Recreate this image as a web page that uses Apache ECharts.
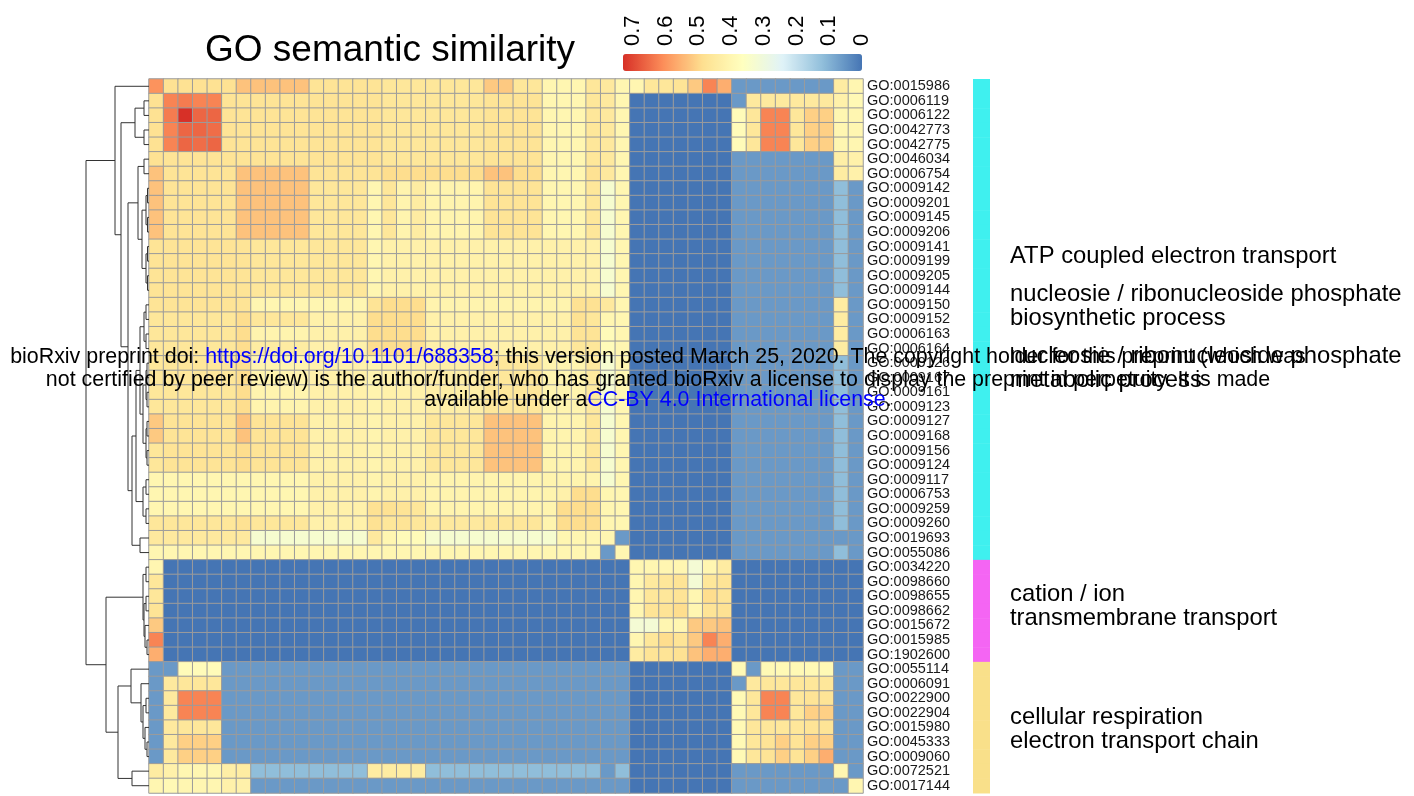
<!DOCTYPE html>
<html><head><meta charset="utf-8">
<script src="https://cdn.jsdelivr.net/npm/echarts/dist/echarts.min.js"></script>
<style>html,body{margin:0;padding:0;background:#fff;}#c{width:1414px;height:796px;}</style>
</head><body><div id="c"></div>
<script>
const goTerms = ["GO:0015986","GO:0006119","GO:0006122","GO:0042773","GO:0042775","GO:0046034","GO:0006754","GO:0009142","GO:0009201","GO:0009145","GO:0009206","GO:0009141","GO:0009199","GO:0009205","GO:0009144","GO:0009150","GO:0009152","GO:0006163","GO:0006164","GO:0009126","GO:0009167","GO:0009161","GO:0009123","GO:0009127","GO:0009168","GO:0009156","GO:0009124","GO:0009117","GO:0006753","GO:0009259","GO:0009260","GO:0019693","GO:0055086","GO:0034220","GO:0098660","GO:0098655","GO:0098662","GO:0015672","GO:0015985","GO:1902600","GO:0055114","GO:0006091","GO:0022900","GO:0022904","GO:0015980","GO:0045333","GO:0009060","GO:0072521","GO:0017144"];

// similarity matrix (symmetric) - upper triangle, row i lists columns i..49
const simNucleotide = [
[.60,.48,.48,.48,.48,.48,.53,.53,.53,.53,.53,.47,.47,.47,.47,.47,.46,.46,.46,.46,.46,.46,.46,.52,.52,.46,.46,.40,.40,.40,.46,.45,.40,.40,.46,.46,.47,.52,.62,.56,.06,.06,.06,.06,.06,.06,.06,.44,.40],
[.62,.63,.62,.62,.47,.47,.47,.47,.47,.47,.47,.47,.47,.47,.47,.46,.46,.46,.46,.46,.46,.46,.47,.47,.47,.47,.40,.40,.40,.46,.45,.40,0,0,0,0,0,0,0,.06,.45,.45,.45,.45,.45,.45,.42,.39],
[.73,.66,.66,.47,.47,.47,.47,.47,.47,.47,.47,.47,.47,.47,.46,.46,.46,.46,.46,.46,.46,.47,.47,.47,.47,.40,.40,.40,.46,.45,.40,0,0,0,0,0,0,0,.38,.46,.62,.62,.46,.51,.51,.40,.40],
[.66,.65,.47,.47,.47,.47,.47,.47,.47,.47,.47,.47,.47,.46,.46,.46,.46,.46,.46,.46,.47,.47,.47,.47,.40,.40,.40,.46,.45,.40,0,0,0,0,0,0,0,.38,.46,.62,.62,.46,.51,.51,.40,.40],
[.66,.47,.47,.47,.47,.47,.47,.47,.47,.47,.47,.47,.46,.46,.46,.46,.46,.46,.46,.47,.47,.47,.47,.40,.40,.40,.46,.45,.40,0,0,0,0,0,0,0,.38,.46,.62,.62,.46,.51,.51,.40,.40],
[.47,.47,.47,.47,.47,.47,.47,.47,.47,.47,.47,.46,.46,.46,.46,.46,.46,.46,.47,.47,.47,.47,.40,.40,.40,.46,.45,.40,0,0,0,0,0,0,0,.06,.06,.06,.06,.06,.06,.06,.43,.42],
[.53,.53,.53,.53,.53,.47,.47,.47,.47,.47,.49,.49,.49,.49,.49,.49,.49,.53,.53,.49,.49,.40,.40,.40,.48,.45,.40,0,0,0,0,0,0,0,.06,.06,.06,.06,.06,.06,.06,.44,.42],
[.53,.53,.53,.53,.46,.46,.46,.46,.40,.46,.41,.44,.41,.41,.41,.41,.47,.47,.47,.47,.40,.40,.40,.46,.33,.40,0,0,0,0,0,0,0,.06,.06,.06,.06,.06,.06,.06,.12,.06],
[.53,.53,.53,.46,.46,.46,.46,.40,.46,.41,.44,.41,.41,.41,.41,.47,.47,.47,.47,.40,.40,.40,.46,.33,.40,0,0,0,0,0,0,0,.06,.06,.06,.06,.06,.06,.06,.12,.06],
[.53,.53,.46,.46,.46,.46,.40,.46,.41,.44,.41,.41,.41,.41,.47,.47,.47,.47,.40,.40,.40,.46,.33,.40,0,0,0,0,0,0,0,.06,.06,.06,.06,.06,.06,.06,.12,.06],
[.53,.46,.46,.46,.46,.40,.46,.41,.44,.41,.41,.41,.41,.47,.47,.47,.47,.40,.40,.40,.46,.33,.40,0,0,0,0,0,0,0,.06,.06,.06,.06,.06,.06,.06,.12,.06],
[.46,.46,.46,.46,.40,.42,.42,.42,.42,.42,.42,.42,.42,.42,.42,.42,.42,.42,.42,.42,.33,.40,0,0,0,0,0,0,0,.06,.06,.06,.06,.06,.06,.06,.12,.06],
[.46,.46,.46,.40,.42,.42,.42,.42,.42,.42,.42,.42,.42,.42,.42,.42,.42,.42,.42,.33,.40,0,0,0,0,0,0,0,.06,.06,.06,.06,.06,.06,.06,.12,.06],
[.46,.46,.40,.42,.42,.42,.42,.42,.42,.42,.42,.42,.42,.42,.42,.42,.42,.42,.33,.40,0,0,0,0,0,0,0,.06,.06,.06,.06,.06,.06,.06,.12,.06],
[.46,.40,.42,.42,.42,.42,.42,.42,.42,.42,.42,.42,.42,.42,.42,.42,.42,.33,.40,0,0,0,0,0,0,0,.06,.06,.06,.06,.06,.06,.06,.12,.06],
[.47,.49,.49,.49,.41,.41,.41,.41,.41,.41,.41,.41,.41,.41,.48,.48,.45,.40,0,0,0,0,0,0,0,.06,.06,.06,.06,.06,.06,.06,.44,.06],
[.49,.49,.49,.42,.42,.42,.42,.42,.42,.42,.42,.42,.42,.48,.46,.40,.40,0,0,0,0,0,0,0,.06,.06,.06,.06,.06,.06,.06,.44,.06],
[.49,.49,.42,.42,.42,.42,.42,.42,.42,.42,.42,.42,.47,.47,.38,.40,0,0,0,0,0,0,0,.06,.06,.06,.06,.06,.06,.06,.44,.06],
[.48,.42,.42,.42,.42,.42,.42,.42,.42,.42,.42,.46,.46,.38,.40,0,0,0,0,0,0,0,.06,.06,.06,.06,.06,.06,.06,.44,.06],
[.43,.43,.43,.43,.46,.46,.46,.46,.41,.41,.41,.45,.33,.40,0,0,0,0,0,0,0,.06,.06,.06,.06,.06,.06,.06,.12,.06],
[.43,.43,.43,.46,.46,.46,.46,.41,.41,.41,.45,.33,.40,0,0,0,0,0,0,0,.06,.06,.06,.06,.06,.06,.06,.12,.06],
[.43,.43,.46,.46,.46,.46,.41,.41,.41,.45,.33,.40,0,0,0,0,0,0,0,.06,.06,.06,.06,.06,.06,.06,.12,.06],
[.43,.46,.46,.46,.46,.41,.41,.41,.45,.33,.40,0,0,0,0,0,0,0,.06,.06,.06,.06,.06,.06,.06,.12,.06],
[.53,.53,.53,.53,.41,.41,.41,.46,.33,.40,0,0,0,0,0,0,0,.06,.06,.06,.06,.06,.06,.06,.12,.06],
[.53,.53,.53,.41,.41,.41,.46,.33,.40,0,0,0,0,0,0,0,.06,.06,.06,.06,.06,.06,.06,.12,.06],
[.53,.53,.41,.41,.41,.46,.33,.40,0,0,0,0,0,0,0,.06,.06,.06,.06,.06,.06,.06,.12,.06],
[.53,.41,.41,.41,.46,.33,.40,0,0,0,0,0,0,0,.06,.06,.06,.06,.06,.06,.06,.12,.06],
[.41,.41,.41,.41,.33,.40,0,0,0,0,0,0,0,.06,.06,.06,.06,.06,.06,.06,.12,.06],
[.42,.49,.49,.40,.40,0,0,0,0,0,0,0,.06,.06,.06,.06,.06,.06,.06,.12,.06],
[.49,.49,.40,.40,0,0,0,0,0,0,0,.06,.06,.06,.06,.06,.06,.06,.12,.06],
[.49,.40,.40,0,0,0,0,0,0,0,.06,.06,.06,.06,.06,.06,.06,.12,.06],
[.40,.06,0,0,0,0,0,0,0,.06,.06,.06,.06,.06,.06,.06,.06,.06],
[.40,0,0,0,0,0,0,0,.06,.06,.06,.06,.06,.06,.06,.12,.06]
];
const simTransport = [
[.40,.40,.40,.40,.32,.40,.44,0,0,0,0,0,0,0,0,0],
[.45,.46,.47,.32,.46,.47,0,0,0,0,0,0,0,0,0],
[.46,.47,.40,.49,.47,0,0,0,0,0,0,0,0,0],
[.49,.40,.47,.48,0,0,0,0,0,0,0,0,0],
[.52,.52,.53,0,0,0,0,0,0,0,0,0],
[.62,.56,0,0,0,0,0,0,0,0,0],
[.56,0,0,0,0,0,0,0,0,0]
];
const simRespiration = [
[.39,.06,.39,.39,.39,.39,.39,.06,.06],
[.45,.46,.46,.46,.46,.46,.06,.06],
[.62,.62,.46,.47,.47,.06,.06],
[.62,.46,.51,.51,.06,.06],
[.46,.47,.47,.06,.06],
[.51,.51,.06,.06],
[.56,.06,.06],
[.40,.06],
[.40]
];

const rowCluster = [0,0,0,0,0,0,0,0,0,0,0,0,0,0,0,0,0,0,0,0,0,0,0,0,0,0,0,0,0,0,0,0,0,1,1,1,1,1,1,1,2,2,2,2,2,2,2,2,2];
const clusterColors = ["#3FF0EF","#F465F3","#F9E08A"];
const clusterLabels = [
  {lines:["ATP coupled electron transport"], y:256},
  {lines:["nucleosie / ribonucleoside phosphate","biosynthetic process"], y:294},
  {lines:["nucleosie / ribonucleoside phosphate","metabolic process"], y:356},
  {lines:["cation / ion","transmembrane transport"], y:594},
  {lines:["cellular respiration","electron transport chain"], y:717}
];
const legendTicks = [0,0.1,0.2,0.3,0.4,0.5,0.6,0.7];
const legendMax = 0.73;

// row dendrogram: [height, left, right]; leaves are row numbers
const rowTree = [63,
  [34, 1,
    [28,
      [14, [5, 2, 3], [5, 4, 5]],
      [21,
        [11, [5, 6, 7], [7, [3, [1.5, 8, 9], [1.5, 10, 11]], [3, [1.5, 12, 13], [1.5, 14, 15]]]],
        [17,
          [13, [9, [5, [3, 16, 17], [3, 18, 19]], [6, [3, [2, 20, 21], [2, 22, 23]], [3, [2, 24, 25], [2, 26, 27]]]], [6, [3, 28, 29], [3, 30, 31]]],
          [9, 32, 33]]]]],
  [43,
    [6, [3, 34, 35], [5, [3, 36, 37], [4, 38, [2, 39, 40]]]],
    [31, [18, 41, [8, 42, [6, [3, 43, 44], [4, 45, [2, 46, 47]]]]], [17, 48, 49]]]];

// ---- build tables ----
const upper = simNucleotide.concat(simTransport, simRespiration);
const n = goTerms.length;
const cells = [];
for (let i = 0; i < n; i++) {
  for (let j = i; j < n; j++) {
    const v = upper[i][j - i];
    cells.push([j, i, v]);
    if (j !== i) cells.push([i, j, v]);
  }
}
const segs = [];
function layout(node) {
  if (typeof node === 'number') return {y: node - 1, h: 0};
  const L = layout(node[1]), R = layout(node[2]);
  segs.push([L.h, L.y, node[0], L.y]);
  segs.push([R.h, R.y, node[0], R.y]);
  segs.push([node[0], L.y, node[0], R.y]);
  return {y: (L.y + R.y) / 2, h: node[0]};
}
layout(rowTree);

const FONT = "'Liberation Sans', Arial, Helvetica, sans-serif";
const palette = ['#4575B4','#91BFDB','#E0F3F8','#FFFFBF','#FEE090','#FC8D59','#D73027'];

const graphics = [];
const barLeft = 623, barLen = 239;
legendTicks.forEach(t => {
  graphics.push({type:'text', x: barLeft + (legendMax - t) / legendMax * barLen, y: 46, rotation: Math.PI/2,
    style:{text: String(t), font: '22px ' + FONT, fill:'#000', textAlign:'left', textVerticalAlign:'middle', align:'left', verticalAlign:'middle'}});
});
clusterLabels.forEach(g => {
  g.lines.forEach((ln, k) => {
    graphics.push({type:'text', x: 1010, y: g.y + k * 24,
      style:{text: ln, font: '23.8px ' + FONT, fill:'#000', textAlign:'left', textVerticalAlign:'middle', align:'left', verticalAlign:'middle'}});
  });
});
const wmRich = {a:{fontSize:21.4, fontFamily:FONT, fill:'#000'}, b:{fontSize:21.4, fontFamily:FONT, fill:'#0000FF'}};
const wmLines = [
  ['{a|bioRxiv preprint doi: }{b|https://doi.org/10.1101/688358}{a|; this version posted March 25, 2020. The copyright holder for this preprint (which was}', 357],
  ['{a|not certified by peer review) is the author/funder, who has granted bioRxiv a license to display the preprint in perpetuity. It is made}', 380],
  ['{a|available under a}{b|CC-BY 4.0 International license}{a|.}', 400]
];
wmLines.forEach(w => {
  graphics.push({type:'text', x: 658, y: w[1], z: 100,
    style:{text: w[0], rich: wmRich, textAlign:'center', textVerticalAlign:'middle', align:'center', verticalAlign:'middle'}});
});

const chart = echarts.init(document.getElementById('c'), null, {renderer:'canvas'});
chart.setOption({
  animation: false,
  backgroundColor: '#fff',
  title: {text: 'GO semantic similarity', left: 200, top: 27, textStyle:{fontSize: 37, fontWeight:'normal', color:'#000', fontFamily: FONT}},
  grid: [
    {left: 149, top: 79, width: 714, height: 714},
    {left: 0, top: 79, width: 149, height: 714},
    {left: 973, top: 79, width: 17, height: 714}
  ],
  xAxis: [
    {type:'category', gridIndex:0, data: goTerms.map((_, i) => i), show:false},
    {type:'value', gridIndex:1, min:0, max:149, inverse:true, show:false},
    {type:'category', gridIndex:2, data:['cluster'], show:false}
  ],
  yAxis: [
    {type:'category', gridIndex:0, data: goTerms, inverse:true, position:'right',
      axisLine:{show:false}, axisTick:{show:false},
      axisLabel:{interval:0, fontSize:14.5, color:'#1a1a1a', margin:4, fontFamily:FONT}},
    {type:'value', gridIndex:1, min:-0.5, max:48.5, inverse:true, show:false},
    {type:'category', gridIndex:2, data: goTerms, inverse:true, show:false}
  ],
  visualMap: {type:'continuous', seriesIndex:0, min:0, max:legendMax, orient:'horizontal', inverse:true,
    left: barLeft, top: 54, itemWidth: 17, itemHeight: barLen, padding:0, calculable:false, text:null, showLabel:false,
    inRange:{color: palette}},
  series: [
    {type:'heatmap', xAxisIndex:0, yAxisIndex:0, data: cells,
      itemStyle:{borderColor:'#9b9b9b', borderWidth:1}, emphasis:{disabled:true}, progressive:0},
    {type:'custom', xAxisIndex:1, yAxisIndex:1, data: segs, encode:{x:[0,2], y:[1,3]}, silent:true,
      renderItem: (params, api) => {
        const p1 = api.coord([api.value(0), api.value(1)]);
        const p2 = api.coord([api.value(2), api.value(3)]);
        return {type:'line', shape:{x1:p1[0], y1:p1[1], x2:p2[0], y2:p2[1]}, style:{stroke:'#333', lineWidth:1}};
      }},
    {type:'custom', xAxisIndex:2, yAxisIndex:2, data: rowCluster.map((c, i) => [0, i, c]), silent:true,
      renderItem: (params, api) => {
        const c = api.coord([0, api.value(1)]);
        const s = api.size([1, 1]);
        return {type:'rect', shape:{x: c[0] - s[0] / 2, y: c[1] - s[1] / 2, width: s[0], height: s[1] + 0.5},
          style:{fill: clusterColors[api.value(2)]}};
      }}
  ],
  graphic: graphics
});
</script>
</body></html>
